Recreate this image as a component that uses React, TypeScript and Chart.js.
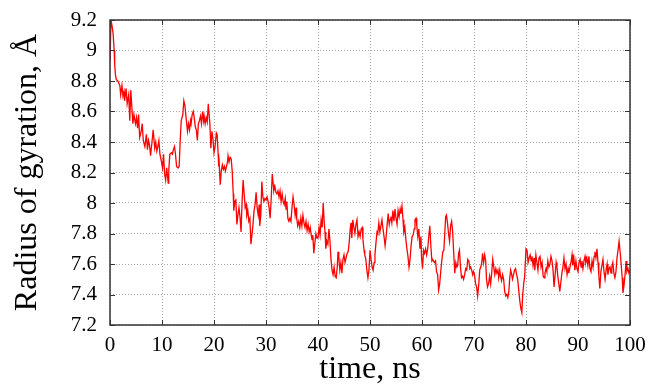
import React, { useEffect, useRef } from "react";
import { Chart, registerables } from "chart.js";

Chart.register(...registerables);

// time (ns) and radius of gyration (Å), in five stretches
const tA = [
  0, 0.2, 0.4, 0.6, 0.8, 0.9, 1.05, 1.2, 1.5, 1.9,
  2.05, 2.3, 2.5, 2.7, 2.8, 3.1, 3.3, 3.6, 3.8, 4.0,
  4.2, 4.4, 4.6, 4.9, 5.1, 5.3, 5.5, 5.7, 6.0, 6.2,
  6.4, 6.7, 7.0, 7.2, 7.4, 7.6, 7.8, 8.1, 8.3, 8.6,
  8.8, 9.0, 9.2, 9.4, 9.6, 9.9, 10.1, 10.3, 10.5, 10.7,
  10.9, 11.2, 11.3, 11.5, 11.8, 12.0, 12.2, 12.4, 12.6, 12.8,
  13.1, 13.3, 13.5, 13.7, 14.0, 14.2, 14.4, 14.6, 14.9, 15.1,
  15.3, 15.5, 15.6, 15.8, 16.0, 16.2, 16.4, 16.6, 16.8, 17.0,
  17.2, 17.4, 17.6, 17.8, 18.0, 18.1, 18.3, 18.5, 18.7, 18.9,
  19.2, 19.4, 19.6, 19.8, 20.0, 20.2, 20.45, 20.6, 20.8, 20.9,
];
const rA = [
  8.93, 9.2, 9.16, 9.11, 9.0, 8.91, 8.84, 8.81, 8.8, 8.77,
  8.71, 8.77, 8.7, 8.73, 8.67, 8.75, 8.65, 8.71, 8.54, 8.74,
  8.63, 8.52, 8.58, 8.52, 8.56, 8.49, 8.58, 8.43, 8.47, 8.52,
  8.41, 8.37, 8.45, 8.35, 8.41, 8.38, 8.31, 8.41, 8.48, 8.36,
  8.4, 8.34, 8.37, 8.41, 8.32, 8.27, 8.23, 8.32, 8.19, 8.15,
  8.23, 8.13, 8.21, 8.32, 8.33, 8.32, 8.35, 8.37, 8.32, 8.24,
  8.23, 8.24, 8.41, 8.54, 8.58, 8.67, 8.64, 8.57, 8.47, 8.52,
  8.48, 8.54, 8.52, 8.58, 8.6, 8.56, 8.5, 8.48, 8.41, 8.52,
  8.54, 8.57, 8.52, 8.6, 8.54, 8.57, 8.52, 8.56, 8.53, 8.65,
  8.52, 8.36, 8.47, 8.42, 8.33, 8.37, 8.46, 8.45, 8.32, 8.24,
];
const tB = [
  21.0, 21.2, 21.4, 21.6, 21.8, 22.0, 22.2, 22.4, 22.6, 22.7,
  22.9, 23.1, 23.3, 23.5, 23.7, 23.8, 24.0, 24.2, 24.4, 24.6,
  24.8, 25.0, 25.2, 25.4, 25.6, 25.8, 26.0, 26.2, 26.3, 26.5,
  26.7, 26.9, 27.1, 27.3, 27.5, 27.7, 27.9, 28.1, 28.3, 28.5,
  28.7, 28.8, 29.0, 29.2, 29.4, 29.6, 29.8, 30.0, 30.2, 30.4,
  30.6, 30.8, 31.0, 31.2, 31.4, 31.5, 31.7, 31.9, 32.1, 32.3,
  32.5, 32.7, 32.9, 33.1, 33.3, 33.5, 33.7, 33.85, 34.0, 34.2,
  34.4, 34.6, 34.8, 35.0, 35.2, 35.4, 35.6, 35.8, 35.9, 36.1,
  36.3, 36.5, 36.7, 36.9, 37.1, 37.3, 37.5, 37.7, 37.9, 38.1,
  38.3, 38.5, 38.7, 38.85, 39.0, 39.2, 39.4, 39.6, 39.8,
];
const rB = [
  8.26, 8.12, 8.21, 8.25, 8.22, 8.24, 8.21, 8.24, 8.27, 8.31,
  8.27, 8.3, 8.29, 8.21, 8.06, 7.95, 8.01, 8.02, 7.86, 7.92,
  7.97, 7.91, 7.81, 8.01, 8.15, 8.06, 7.97, 7.99, 7.92, 7.95,
  7.88, 7.9, 7.73, 7.79, 7.86, 7.95, 7.99, 8.07, 7.97, 7.92,
  7.99, 7.85, 7.92, 8.14, 8.04, 8.01, 8.03, 8.02, 8.04, 8.01,
  7.97, 7.9, 8.03, 8.19, 8.12, 8.08, 8.11, 8.07, 8.06, 8.08,
  8.04, 8.08, 8.01, 8.06, 8.01, 7.99, 8.03, 7.96, 8.01, 7.9,
  7.88, 7.9, 7.88, 7.97, 8.04, 7.99, 7.92, 7.97, 7.9, 7.85,
  7.88, 7.84, 7.9, 7.85, 7.92, 7.87, 7.84, 7.88, 7.82, 7.86,
  7.81, 7.84, 7.79, 7.76, 7.79, 7.67, 7.74, 7.8, 7.77,
];
const tC = [
  40.0, 40.2, 40.4, 40.6, 40.8, 41.0, 41.2, 41.35, 41.5, 41.7,
  41.9, 42.1, 42.3, 42.5, 42.7, 42.9, 43.1, 43.3, 43.5, 43.7,
  43.85, 44.0, 44.2, 44.4, 44.6, 44.8, 45.0, 45.2, 45.4, 45.6,
  45.8, 46.0, 46.2, 46.35, 46.5, 46.7, 46.9, 47.1, 47.3, 47.5,
  47.7, 47.9, 48.1, 48.3, 48.5, 48.65, 48.85, 49.0, 49.2, 49.4,
  49.6, 49.8, 50.0, 50.2, 50.4, 50.6, 50.8, 50.95, 51.15, 51.35,
  51.5, 51.7, 51.9, 52.1, 52.3, 52.5, 52.7, 52.9, 53.1, 53.3,
  53.5, 53.7, 53.85, 54.0, 54.2, 54.4, 54.6, 54.8, 55.0, 55.2,
  55.4, 55.6, 55.8, 55.95, 56.15, 56.35, 56.5, 56.7, 56.9, 57.1,
  57.3, 57.5, 57.7, 57.9, 58.1, 58.3, 58.5, 58.65, 58.85, 59.0,
  59.2, 59.4,
];
const rC = [
  7.77, 7.84, 7.79, 7.89, 7.84, 8.0, 7.87, 7.81, 7.7, 7.75,
  7.73, 7.83, 7.75, 7.63, 7.56, 7.53, 7.58, 7.52, 7.51, 7.58,
  7.68, 7.64, 7.56, 7.61, 7.54, 7.63, 7.66, 7.61, 7.64, 7.67,
  7.68, 7.74, 7.83, 7.87, 7.77, 7.89, 7.84, 7.8, 7.86, 7.89,
  7.78, 7.81, 7.78, 7.83, 7.84, 7.76, 7.69, 7.66, 7.63, 7.56,
  7.51, 7.56, 7.69, 7.63, 7.58, 7.56, 7.61, 7.66, 7.74, 7.81,
  7.8, 7.87, 7.81, 7.85, 7.89, 7.83, 7.78, 7.72, 7.78, 7.86,
  7.93, 7.86, 7.89, 7.91, 7.87, 7.95, 7.88, 7.96, 7.9, 7.86,
  7.95, 7.91, 7.96, 7.93, 7.98, 7.89, 7.81, 7.84, 7.76, 7.7,
  7.65, 7.58, 7.63, 7.72, 7.78, 7.79, 7.83, 7.89, 7.9, 7.85,
  7.78, 7.83,
];
const tD = [
  59.6, 59.8, 59.9, 60.1, 60.3, 60.5, 60.7, 60.9, 61.1, 61.3,
  61.5, 61.7, 61.9, 62.05, 62.2, 62.4, 62.6, 62.8, 63.0, 63.2,
  63.4, 63.6, 63.8, 64.0, 64.2, 64.35, 64.55, 64.7, 64.9, 65.1,
  65.3, 65.5, 65.7, 65.9, 66.1, 66.3, 66.5, 66.7, 66.85, 67.05,
  67.2, 67.4, 67.6, 67.8, 68.0, 68.2, 68.4, 68.6, 68.8, 69.0,
  69.2, 69.35, 69.55, 69.75, 69.9, 70.1, 70.3, 70.5, 70.7, 70.9,
  71.1, 71.3, 71.5, 71.65, 71.85, 72.05, 72.25, 72.4, 72.6, 72.8,
  73.0, 73.2, 73.4, 73.6, 73.8, 74.0, 74.2, 74.4, 74.6, 74.75,
  74.95, 75.1, 75.3, 75.5, 75.7, 75.9, 76.1, 76.3, 76.5, 76.7,
  76.85, 77.05, 77.25, 77.4, 77.6, 77.8, 78.0, 78.2, 78.4, 78.6,
  78.8, 79.0, 79.2, 79.35, 79.55, 79.75,
];
const rD = [
  7.7, 7.78, 7.65, 7.57, 7.69, 7.67, 7.7, 7.66, 7.7, 7.78,
  7.85, 7.72, 7.62, 7.63, 7.62, 7.61, 7.62, 7.55, 7.53, 7.43,
  7.47, 7.55, 7.62, 7.68, 7.69, 7.78, 7.91, 7.92, 7.87, 7.8,
  7.75, 7.85, 7.88, 7.81, 7.67, 7.54, 7.61, 7.58, 7.59, 7.67,
  7.69, 7.58, 7.51, 7.52, 7.5, 7.53, 7.57, 7.56, 7.63, 7.62,
  7.57, 7.58, 7.56, 7.53, 7.55, 7.53, 7.47, 7.45, 7.39, 7.46,
  7.56, 7.58, 7.61, 7.67, 7.61, 7.66, 7.62, 7.5, 7.45, 7.47,
  7.52, 7.47, 7.54, 7.63, 7.58, 7.53, 7.57, 7.54, 7.56, 7.51,
  7.56, 7.52, 7.49, 7.53, 7.5, 7.42, 7.39, 7.4, 7.38, 7.42,
  7.5, 7.56, 7.53, 7.5, 7.53, 7.56, 7.57, 7.53, 7.5, 7.43,
  7.36, 7.31, 7.28, 7.39, 7.47, 7.52,
];
const tE = [
  80.0, 80.2, 80.4, 80.6, 80.8, 81.0, 81.15, 81.35, 81.55, 81.7,
  81.9, 82.1, 82.3, 82.5, 82.7, 82.9, 83.1, 83.3, 83.5, 83.65,
  83.85, 84.0, 84.2, 84.4, 84.6, 84.8, 85.0, 85.2, 85.4, 85.6,
  85.8, 85.95, 86.15, 86.35, 86.5, 86.7, 86.9, 87.1, 87.3, 87.5,
  87.7, 87.9, 88.1, 88.25, 88.45, 88.65, 88.85, 89.0, 89.2, 89.4,
  89.6, 89.8, 90.0, 90.2, 90.4, 90.6, 90.75, 90.95, 91.15, 91.35,
  91.5, 91.7, 91.9, 92.1, 92.3, 92.5, 92.7, 92.9, 93.1, 93.25,
  93.45, 93.65, 93.85, 94.0, 94.2, 94.4, 94.6, 94.8, 95.0, 95.2,
  95.4, 95.6, 95.75, 95.95, 96.15, 96.35, 96.5, 96.7, 96.9, 97.1,
  97.3, 97.5, 97.7, 97.9, 98.1, 98.3, 98.5, 98.65, 98.85, 99.05,
  99.25, 99.4, 99.6, 99.8, 100,
];
const rE = [
  7.7, 7.69, 7.61, 7.64, 7.66, 7.62, 7.65, 7.59, 7.64, 7.56,
  7.66, 7.61, 7.56, 7.64, 7.65, 7.58, 7.61, 7.52, 7.51, 7.54,
  7.57, 7.55, 7.62, 7.58, 7.6, 7.65, 7.62, 7.56, 7.45, 7.53,
  7.61, 7.58, 7.51, 7.46, 7.42, 7.48, 7.54, 7.58, 7.64, 7.57,
  7.6, 7.53, 7.57, 7.54, 7.58, 7.61, 7.66, 7.59, 7.64, 7.56,
  7.62, 7.57, 7.55, 7.61, 7.63, 7.58, 7.62, 7.57, 7.62, 7.65,
  7.61, 7.64, 7.59, 7.65, 7.57, 7.55, 7.62, 7.58, 7.65, 7.68,
  7.64, 7.7, 7.61, 7.53, 7.44, 7.55, 7.59, 7.63, 7.55, 7.5,
  7.56, 7.6, 7.53, 7.57, 7.58, 7.54, 7.58, 7.61, 7.54, 7.51,
  7.55, 7.64, 7.69, 7.75, 7.68, 7.6, 7.51, 7.41, 7.46, 7.53,
  7.62, 7.55, 7.57, 7.54, 7.56,
];

const timeNs = [...tA, ...tB, ...tC, ...tD, ...tE];
const radiusA = [...rA, ...rB, ...rC, ...rD, ...rE];

const X_MIN = 0;
const X_MAX = 100;
const X_STEP = 10;
const Y_MIN = 7.2;
const Y_MAX = 9.2;
const Y_STEP = 0.2;
const X_TITLE = "time, ns";
const Y_TITLE = "Radius of gyration, Å";

const FONT = "'Liberation Serif', 'DejaVu Serif', serif";
const FRAME = "#333333";

const framePlugin = {
  id: "gnuplotFrame",
  afterDatasetsDraw(chart: any) {
    const { ctx, chartArea, scales } = chart;
    const { left, right, top, bottom } = chartArea;
    const L = 5;
    ctx.save();
    ctx.strokeStyle = FRAME;
    ctx.lineWidth = 1;
    ctx.beginPath();
    scales.x.ticks.forEach((t: any) => {
      const px = Math.round(scales.x.getPixelForValue(t.value)) + 0.5;
      ctx.moveTo(px, bottom);
      ctx.lineTo(px, bottom - L);
      ctx.moveTo(px, top);
      ctx.lineTo(px, top + L);
    });
    scales.y.ticks.forEach((t: any) => {
      const py = Math.round(scales.y.getPixelForValue(t.value)) + 0.5;
      ctx.moveTo(left, py);
      ctx.lineTo(left + L, py);
      ctx.moveTo(right, py);
      ctx.lineTo(right - L, py);
    });
    ctx.stroke();
    ctx.lineWidth = 1.5;
    ctx.strokeRect(left, top, right - left, bottom - top);
    ctx.restore();
  },
};

export default function App() {
  const ref = useRef<HTMLCanvasElement | null>(null);

  useEffect(() => {
    if (!ref.current) return;
    const points = timeNs.map((t, i) => ({ x: t, y: radiusA[i] }));
    const chart = new Chart(ref.current, {
      type: "line",
      data: {
        datasets: [
          {
            data: points,
            borderColor: "#ff0000",
            borderWidth: 1.3,
            pointRadius: 0,
            tension: 0,
            fill: false,
          },
        ],
      },
      options: {
        animation: false,
        responsive: false,
        devicePixelRatio: 1,
        layout: { padding: { left: 0, right: 19, top: 20, bottom: 0 } },
        plugins: { legend: { display: false }, tooltip: { enabled: false } },
        scales: {
          x: {
            type: "linear",
            min: X_MIN,
            max: X_MAX,
            afterFit: (s: any) => {
              s.height = 59;
              s.paddingLeft = 0;
              s.paddingRight = 0;
            },
            ticks: {
              stepSize: X_STEP,
              padding: 8,
              color: "#000",
              font: { family: FONT, size: 21 },
              maxRotation: 0,
            },
            grid: { color: "#a8a8a8", lineWidth: 1, drawTicks: false },
            border: { display: false, dash: [1, 2] },
            title: {
              display: true,
              text: X_TITLE,
              color: "#000",
              font: { family: FONT, size: 32, lineHeight: 0.875 },
              padding: { top: 0, bottom: 0 },
            },
          },
          y: {
            type: "linear",
            min: Y_MIN,
            max: Y_MAX,
            afterFit: (s: any) => {
              s.width = 110;
              s.paddingTop = 0;
              s.paddingBottom = 0;
            },
            ticks: {
              stepSize: Y_STEP,
              padding: 13,
              color: "#000",
              font: { family: FONT, size: 21 },
              callback: (v: any) => String(Math.round(Number(v) * 10) / 10),
            },
            grid: { color: "#a8a8a8", lineWidth: 1, drawTicks: false },
            border: { display: false, dash: [1, 2] },
            title: {
              display: true,
              text: Y_TITLE,
              color: "#000",
              font: { family: FONT, size: 32, lineHeight: 1 },
              padding: { top: 12, bottom: 0 },
            },
          },
        },
      },
      plugins: [framePlugin],
    });
    return () => chart.destroy();
  }, []);

  return (
    <div style={{ position: "fixed", left: 0, top: 0, width: 649, height: 384, background: "#fff" }}>
      <canvas ref={ref} width={649} height={384} style={{ display: "block" }} />
    </div>
  );
}
